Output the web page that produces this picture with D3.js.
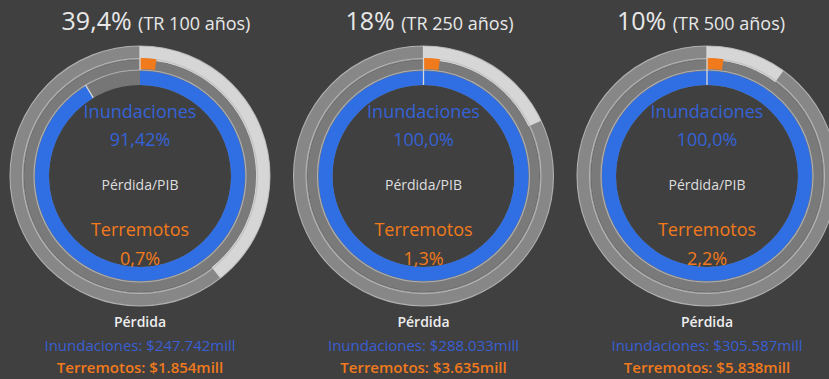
<!DOCTYPE html>
<html><head><meta charset="utf-8">
<script src="https://cdn.jsdelivr.net/npm/d3@7"></script>
<style>
html,body{margin:0;padding:0;background:#404040;}
svg{display:block;}
text{font-family:"Open Sans","DejaVu Sans",sans-serif;}
</style></head>
<body><svg id="c" width="829" height="379"></svg>
<script>
// ---- data ----
const titlePct = ["39,4%", "18%", "10%"];
const returnPeriods = ["TR 100 años", "TR 250 años", "TR 500 años"];
const outerValues = [39.4, 18, 10];           // % shown by the light outer arc
const floodPct = [91.42, 100.0, 100.0];        // Inundaciones pérdida/PIB %
const floodPctLabel = ["91,42%", "100,0%", "100,0%"];
const quakePct = [0.7, 1.3, 2.2];              // Terremotos pérdida/PIB %
const quakePctLabel = ["0,7%", "1,3%", "2,2%"];
const floodLoss = ["$247.742mill", "$288.033mill", "$305.587mill"];
const quakeLoss = ["$1.854mill", "$3.635mill", "$5.838mill"];

// ---- layout ----
const svg = d3.select("#c");
const centersX = d3.scalePoint().domain(d3.range(3)).range([140, 707]);
const cy = 176;
const angle = d3.scaleLinear().domain([0, 100]).range([0, 2 * Math.PI]);
const minQuakeAngle = 0.14;

const R = {outerO: 130, outerI: 116, midO: 116, midI: 106, innO: 106, innI: 91};
const cBlue = "#2f6fe3", cOrange = "#f07a1c", cLight = "#d6d6d6";

d3.range(3).forEach(i => {
  const cx = centersX(i);
  const g = svg.append("g").attr("transform", `translate(${cx},${cy})`);
  const arc = d3.arc();

  // tracks
  g.append("path").attr("d", arc({innerRadius: R.outerI, outerRadius: R.outerO, startAngle: 0, endAngle: 2*Math.PI})).attr("fill", "#878787");
  g.append("path").attr("d", arc({innerRadius: R.midI, outerRadius: R.midO, startAngle: 0, endAngle: 2*Math.PI})).attr("fill", "#7a7a7a");
  g.append("path").attr("d", arc({innerRadius: R.innI, outerRadius: R.innO, startAngle: 0, endAngle: 2*Math.PI})).attr("fill", "#767676");

  // outer light arc
  g.append("path").attr("d", arc({innerRadius: R.outerI, outerRadius: R.outerO, startAngle: 0, endAngle: angle(outerValues[i])})).attr("fill", cLight);

  // thin light circle borders
  [R.outerO, R.outerI + 1.5, R.midI].forEach(r => {
    g.append("circle").attr("r", r).attr("fill", "none").attr("stroke", "#bdbdbd").attr("stroke-width", 1.1).attr("opacity", 0.85);
  });

  // blue arc
  const blueEnd = angle(floodPct[i]);
  g.append("path").attr("d", arc({innerRadius: R.innI, outerRadius: R.innO - 1, startAngle: 0, endAngle: blueEnd})).attr("fill", cBlue);

  // orange arc
  const qa = Math.max(angle(quakePct[i]), minQuakeAngle);
  g.append("path").attr("d", arc({innerRadius: R.midI + 1, outerRadius: R.midO + 2, startAngle: 0, endAngle: qa})).attr("fill", cOrange);

  // radial marker lines
  const rad = (a, r1, r2) => {
    const s = Math.sin(a), c = -Math.cos(a);
    g.append("line").attr("x1", s*r1).attr("y1", c*r1).attr("x2", s*r2).attr("y2", c*r2)
      .attr("stroke", "#d8d8d8").attr("stroke-width", 1.3);
  };
  rad(0, R.midI, R.outerO);
  rad(blueEnd, R.innI, R.innO);

  // center texts
  const t = (y, txt, size, fill, weight) => g.append("text").attr("x", 0).attr("y", y)
      .attr("text-anchor", "middle").attr("font-size", size).attr("fill", fill)
      .attr("font-weight", weight || 400).text(txt);
  t(-58, "Inundaciones", 18, "#3563d6");
  t(-30, floodPctLabel[i], 18, "#3563d6");
  t(14, "Pérdida/PIB", 14, "#dedede");
  t(60, "Terremotos", 18, cOrange);
  t(89, quakePctLabel[i], 18, cOrange);

  // bottom texts
  t(151, "Pérdida", 14, "#eeeeee", 600);
  t(175, "Inundaciones: " + floodLoss[i], 15, "#3a5fd2");
  t(197, "Terremotos: " + quakeLoss[i], 15, cOrange, 600);

  // title
  const title = svg.append("text").attr("x", cx + [16, 6, -6][i]).attr("y", 30)
    .attr("text-anchor", "middle").attr("fill", "#e8e8e8");
  title.append("tspan").attr("font-size", 25).text(titlePct[i] + " ");
  title.append("tspan").attr("font-size", 18).text("(" + returnPeriods[i] + ")");
});
</script></body></html>
